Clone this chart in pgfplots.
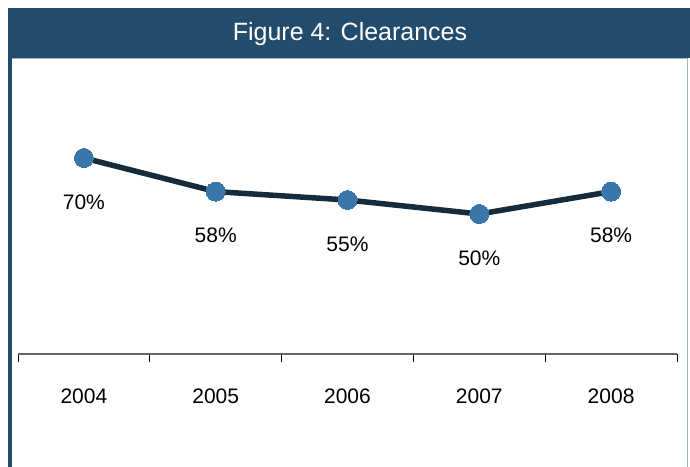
\documentclass[border=0pt]{standalone}
\usepackage{pgfplots}
\pgfplotsset{compat=1.18}
\usepackage{fontspec}
\setmainfont{Liberation Sans}
\definecolor{barblue}{HTML}{234B6B}
\definecolor{linenavy}{HTML}{152B3E}
\definecolor{dotblue}{HTML}{3A76AA}
\definecolor{frame}{HTML}{9FB2C6}
\begin{document}
\begin{tikzpicture}
\path[use as bounding box] (0,0) rectangle (690bp,467bp);
% header bar and frame
\fill[barblue] (8bp,459bp) rectangle (690bp,409bp);
\node[text=white, font=\fontsize{25bp}{30bp}\selectfont] at (350bp,433bp) {Figure 4: Clearances};
\draw[frame, line width=1bp] (11bp,408.5bp) -- (687bp,408.5bp) -- (687bp,0);
\draw[barblue, line width=3.5bp] (10bp,409bp) -- (10bp,0);
\begin{axis}[
    at={(18bp,113bp)}, anchor=south west,
    scale only axis,
    width=659bp, height=280bp,
    xmin=-0.5, xmax=4.5,
    ymin=0, ymax=100,
    axis x line*=bottom,
    axis y line=none,
    x axis line style={draw=gray!80!black, line width=1.2bp},
    xtick={0,1,2,3,4},
    xticklabels={2004,2005,2006,2007,2008},
    major tick length=0pt,
    minor xtick={-0.5,0.5,1.5,2.5,3.5,4.5},
    minor tick length=8bp,
    tick align=outside,
    minor tick style={draw=black, line width=1bp},
    xticklabel style={font=\fontsize{21bp}{25bp}\selectfont, yshift=-31bp},
    /pgf/number format/assume math mode=true,
    clip=false,
]
\addplot[
    color=linenavy,
    line width=5.5bp,
    mark=*,
    mark size=9.5bp,
    mark options={fill=dotblue, draw=dotblue, line width=0pt},
    nodes near coords={\pgfmathprintnumber{\pgfplotspointmeta}\%},
    every node near coord/.append style={anchor=center, yshift=-44bp, text=black, font=\fontsize{21bp}{25bp}\selectfont},
    ] coordinates {
    (0,70)(1,58)(2,55)(3,50)(4,58)
    };
\end{axis}
\end{tikzpicture}
\end{document}
